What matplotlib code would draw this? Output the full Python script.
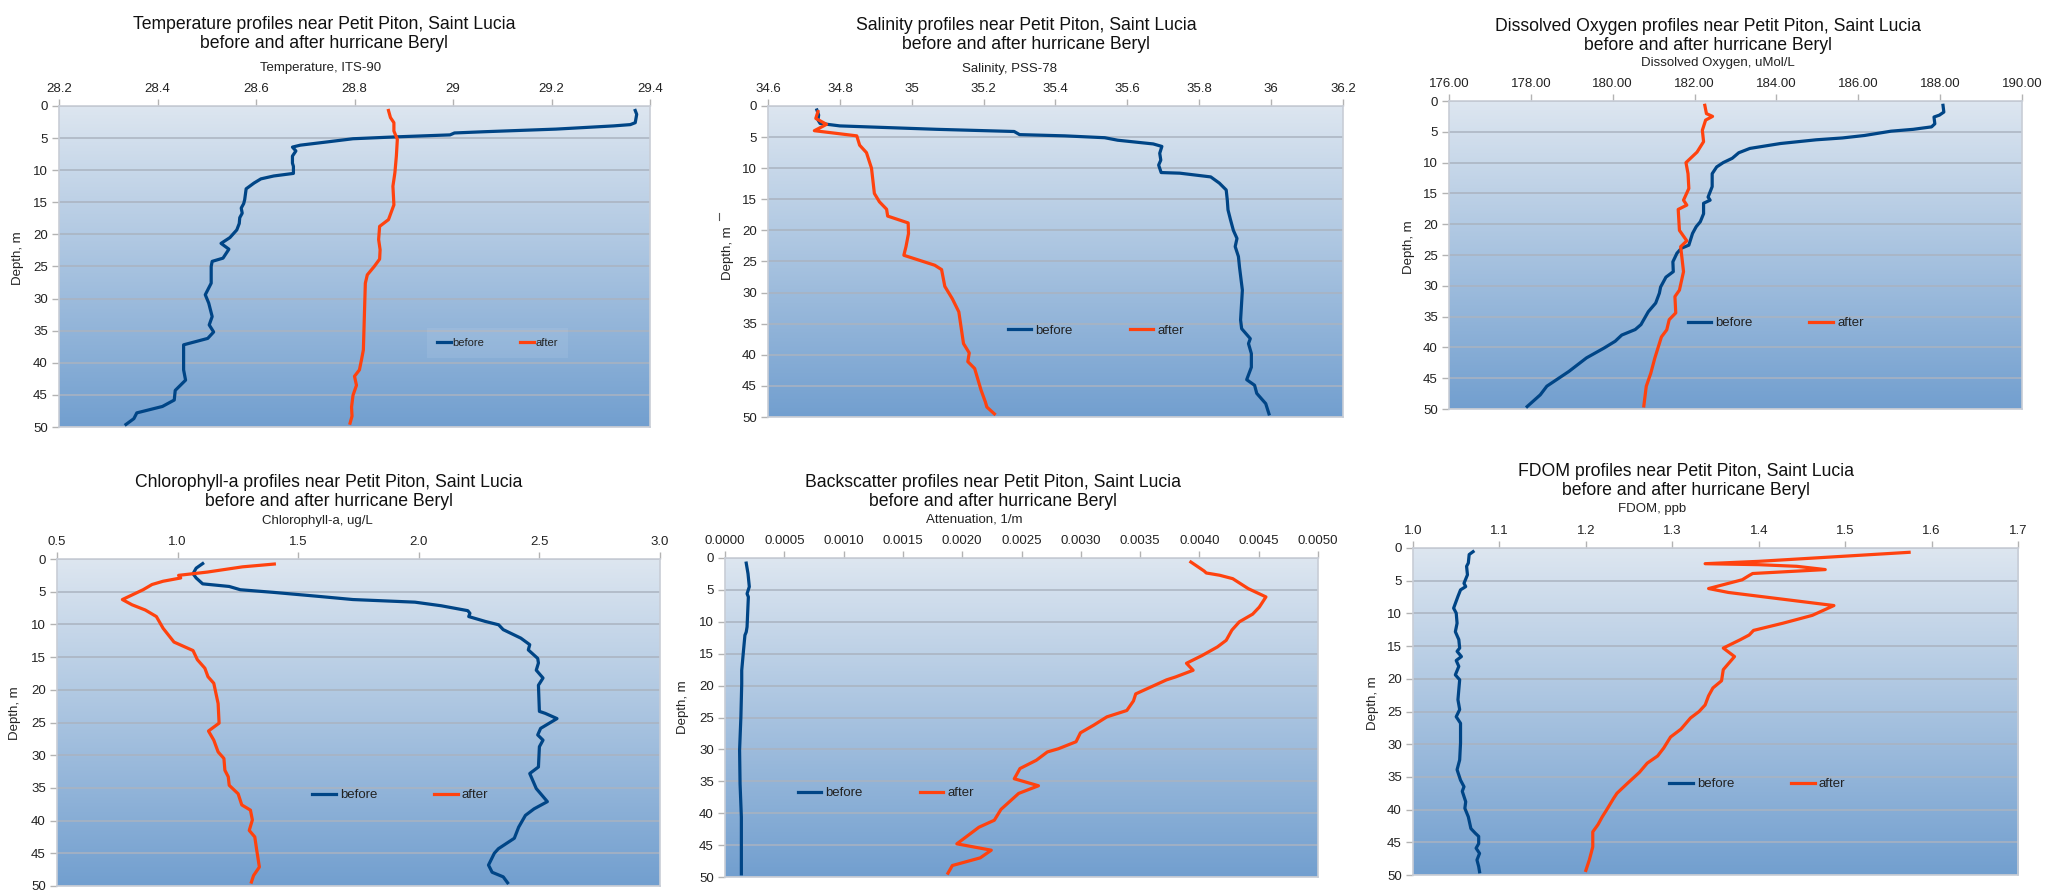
import matplotlib
matplotlib.use('Agg')
import matplotlib.pyplot as plt
import numpy as np
from matplotlib.ticker import MultipleLocator, FuncFormatter
from matplotlib.colors import LinearSegmentedColormap
from matplotlib.lines import Line2D

plt.rcParams['font.family'] = ['Liberation Sans', 'DejaVu Sans']

# ---------------- data ----------------
temp_before_depth = [0.7, 1.3, 2.6, 2.9, 3.1, 3.6, 4.0, 4.2, 4.5, 4.8, 5.1, 5.6, 6.1, 6.4, 7.0, 7.8, 8.9, 9.4, 10.5,
                     10.9, 11.35, 12.0, 12.9, 14.6, 15.2, 15.9, 16.7, 17.4, 18.3, 19.3, 20.5, 21.4, 22.3, 23.7, 24.2,
                     25.0, 27.6, 29.4, 30.7, 32.8, 34.1, 35.2, 36.2, 37.2, 39.1, 41.1, 42.7, 44.3, 45.8, 46.8, 47.8,
                     48.7, 49.6]
temp_before = [29.370, 29.373, 29.370, 29.36, 29.326, 29.209, 29.066, 29.003, 28.994, 28.887, 28.797, 28.744, 28.690,
               28.674, 28.681, 28.674, 28.674, 28.676, 28.676, 28.636, 28.61, 28.596, 28.580, 28.577, 28.575, 28.57,
               28.572, 28.567, 28.566, 28.561, 28.547, 28.529, 28.545, 28.533, 28.511, 28.509, 28.509, 28.497, 28.504,
               28.511, 28.505, 28.514, 28.502, 28.453, 28.453, 28.453, 28.457, 28.436, 28.434, 28.41, 28.358, 28.352,
               28.336]
temp_after_depth = [0.7, 1.8, 2.6, 3.9, 5.2, 7.8, 10.4, 12.5, 15.4, 17.7, 18.75, 20.8, 22.4, 23.85, 25.0, 26.3, 27.6,
                    32.8, 38.0, 39.6, 41.1, 42.1, 43.5, 45.05, 46.9, 48.3, 49.4]
temp_after = [28.869, 28.873, 28.88, 28.88, 28.887, 28.885, 28.882, 28.878, 28.88, 28.869, 28.851, 28.849, 28.852,
              28.851, 28.84, 28.826, 28.822, 28.82, 28.818, 28.814, 28.81, 28.8, 28.804, 28.797, 28.794, 28.795, 28.791]

sal_before_depth = [0.64, 1.45, 2.25, 2.8, 3.2, 3.4, 3.75, 4.1, 4.6, 4.8, 5.1, 5.5, 6.1, 6.5, 7.6, 8.7, 9.5, 10.7,
                    10.8, 11.4, 12.4, 13.5, 15.1, 16.7, 18.3, 20.0, 21.3, 22.6, 24.2, 25.9, 29.6, 34.4, 35.8, 37.4,
                    38.2, 39.8, 42.0, 44.0, 44.9, 46.2, 47.85, 49.5]
sal_before = [34.736, 34.741, 34.739, 34.745, 34.80, 34.898, 35.07, 35.285, 35.30, 35.426, 35.537, 35.573, 35.672,
              35.696, 35.69, 35.693, 35.687, 35.694, 35.746, 35.832, 35.856, 35.875, 35.878, 35.88, 35.887, 35.895,
              35.905, 35.90, 35.909, 35.912, 35.92, 35.915, 35.918, 35.942, 35.937, 35.945, 35.945, 35.932, 35.954,
              35.96, 35.985, 35.994]
sal_after_depth = [0.9, 2.0, 2.95, 3.97, 4.8, 6.3, 7.5, 10.0, 14.06, 15.4, 16.6, 17.7, 18.8, 20.5, 22.6, 24.0, 24.8,
                   25.6, 26.3, 29.0, 31.0, 33.1, 38.2, 39.7, 41.1, 42.2, 45.7, 47.6, 48.4, 49.5]
sal_after = [34.739, 34.733, 34.763, 34.729, 34.847, 34.855, 34.874, 34.888, 34.896, 34.91, 34.93, 34.933, 34.99,
             34.991, 34.984, 34.978, 35.021, 35.064, 35.083, 35.092, 35.113, 35.131, 35.144, 35.16, 35.156, 35.175,
             35.193, 35.205, 35.209, 35.23]

do_before_depth = [0.7, 1.8, 2.3, 2.6, 3.7, 4.2, 4.6, 4.9, 5.6, 6.0, 6.3, 6.9, 7.7, 8.4, 9.3, 10.0, 10.7, 11.8, 13.9,
                   15.6, 16.1, 16.6, 18.3, 19.6, 20.4, 21.5, 23.4, 23.9, 24.7, 26.1, 27.7, 28.6, 30.2, 31.2, 32.8,
                   34.2, 36.3, 37.1, 38.0, 39.0, 40.1, 41.7, 43.9, 46.3, 47.7, 49.6]
do_before = [188.07, 188.09, 187.98, 187.85, 187.87, 187.79, 187.34, 186.80, 186.15, 185.61, 184.97, 184.1, 183.35,
             183.08, 182.92, 182.7, 182.54, 182.43, 182.43, 182.33, 182.38, 182.22, 182.22, 182.14, 182.04, 181.95,
             181.86, 181.68, 181.57, 181.47, 181.48, 181.3, 181.17, 181.14, 181.05, 180.87, 180.69, 180.55, 180.22,
             180.06, 179.79, 179.36, 178.93, 178.39, 178.23, 177.91]
do_after_depth = [0.7, 2.05, 2.5, 3.1, 4.75, 6.6, 8.3, 10.0, 11.8, 14.2, 16.1, 16.9, 17.6, 21.0, 22.7, 23.65, 27.7,
                  30.7, 31.75, 34.4, 35.5, 37.15, 38.3, 41.7, 44.2, 46.3, 49.5]
do_after = [182.25, 182.29, 182.44, 182.27, 182.19, 182.22, 182.06, 181.79, 181.84, 181.86, 181.73, 181.81, 181.6,
            181.63, 181.81, 181.66, 181.73, 181.63, 181.52, 181.54, 181.38, 181.32, 181.19, 181.03, 180.93, 180.82,
            180.76]

chl_before_depth = [0.7, 1.4, 2.25, 2.9, 3.8, 4.2, 4.7, 5.1, 5.7, 6.2, 6.6, 7.15, 7.9, 8.3, 8.8, 9.55, 10.06, 10.8,
                    12.1, 13.1, 13.9, 15.2, 15.9, 17.0, 18.2, 19.3, 23.3, 23.6, 24.4, 25.9, 26.9, 27.7, 28.7, 31.8,
                    32.8, 35.1, 37.1, 38.2, 39.2, 41.0, 42.7, 44.3, 45.0, 46.8, 47.9, 48.6, 49.5]
chl_before = [1.104, 1.077, 1.064, 1.077, 1.104, 1.214, 1.26, 1.397, 1.58, 1.727, 1.984, 2.093, 2.203, 2.212, 2.207,
              2.276, 2.331, 2.35, 2.423, 2.46, 2.454, 2.493, 2.496, 2.487, 2.515, 2.496, 2.50, 2.524, 2.573, 2.505,
              2.493, 2.515, 2.50, 2.496, 2.46, 2.487, 2.533, 2.478, 2.442, 2.414, 2.396, 2.33, 2.313, 2.289, 2.304,
              2.35, 2.368]
chl_after_depth = [0.77, 1.2, 2.0, 2.5, 2.9, 3.4, 3.9, 4.7, 6.2, 7.0, 7.8, 8.8, 10.6, 12.7, 14.0, 15.4, 16.7, 18.0,
                   19.0, 22.1, 25.1, 26.3, 27.7, 29.5, 30.5, 32.3, 33.3, 34.6, 35.9, 37.6, 38.4, 39.9, 41.5, 42.5,
                   44.5, 47.1, 48.4, 49.4]
chl_after = [1.401, 1.269, 1.123, 1.004, 1.013, 0.940, 0.894, 0.857, 0.771, 0.811, 0.866, 0.912, 0.94, 0.985, 1.064,
             1.082, 1.113, 1.126, 1.15, 1.168, 1.172, 1.128, 1.15, 1.168, 1.192, 1.196, 1.21, 1.214, 1.251, 1.266,
             1.302, 1.31, 1.297, 1.32, 1.328, 1.339, 1.315, 1.306]

bs_before_depth = [0.8, 2.46, 4.5, 5.6, 6.1, 10.8, 11.6, 12.1, 14.5, 17.6, 19.7, 24.9, 30.1, 35.4, 40.6, 45.8, 49.5]
bs_before = [0.000179, 0.000194, 0.000205, 0.000186, 0.000197, 0.000186, 0.000179, 0.000168, 0.000156, 0.000141,
             0.000141, 0.000134, 0.000123, 0.000127, 0.000138, 0.000138, 0.000138]
bs_after_depth = [0.63, 2.04, 2.35, 2.7, 3.24, 4.8, 6.1, 7.7, 8.8, 10.0, 11.3, 12.9, 13.95, 15.3, 16.5, 17.6, 18.65,
                  19.1, 21.3, 22.4, 23.9, 24.9, 26.2, 27.4, 28.8, 29.9, 30.4, 31.7, 33.0, 34.6, 35.7, 36.9, 39.4,
                  41.1, 42.2, 44.8, 45.8, 47.0, 48.2, 49.4]
bs_after = [0.003928, 0.004040, 0.004058, 0.00417, 0.004281, 0.004412, 0.004561, 0.004505, 0.004449, 0.004337,
            0.004274, 0.004226, 0.004151, 0.004021, 0.003891, 0.003947, 0.003798, 0.003723, 0.003463, 0.003444,
            0.003388, 0.00322, 0.003109, 0.002997, 0.00296, 0.002811, 0.002718, 0.002625, 0.002487, 0.002439,
            0.002643, 0.002476, 0.002327, 0.002271, 0.002141, 0.001955, 0.002245, 0.002152, 0.001917, 0.00188]

fdom_before_depth = [0.56, 1.0, 2.3, 2.8, 4.1, 5.4, 5.9, 6.4, 7.4, 9.2, 9.95, 11.5, 12.8, 14.0, 15.3, 15.8, 16.6, 17.2,
                     18.1, 19.4, 20.15, 23.2, 24.7, 25.8, 26.8, 29.8, 32.4, 33.9, 35.5, 36.5, 37.2, 38.8, 39.8, 41.1,
                     42.9, 43.6, 44.1, 45.2, 45.9, 46.7, 47.7, 48.7, 49.5]
fdom_before = [1.0695, 1.065, 1.064, 1.062, 1.063, 1.059, 1.061, 1.055, 1.052, 1.047, 1.05, 1.051, 1.049, 1.053,
               1.054, 1.051, 1.056, 1.05, 1.053, 1.049, 1.054, 1.052, 1.054, 1.05, 1.055, 1.055, 1.054, 1.051, 1.055,
               1.059, 1.057, 1.061, 1.06, 1.064, 1.067, 1.072, 1.076, 1.076, 1.073, 1.077, 1.074, 1.076, 1.077]
fdom_after_depth = [0.66, 2.04, 2.4, 2.55, 2.8, 3.3, 3.9, 4.2, 4.85, 6.2, 6.8, 8.8, 10.3, 11.5, 12.6, 13.3, 14.0, 15.3,
                    16.6, 18.6, 20.3, 21.4, 22.6, 24.0, 25.0, 26.0, 27.7, 28.9, 30.6, 31.8, 32.9, 34.3, 36.0, 37.5,
                    38.3, 40.05, 41.1, 42.3, 43.4, 45.7, 47.7, 49.3]
fdom_after = [1.574, 1.40, 1.338, 1.40, 1.444, 1.477, 1.393, 1.389, 1.381, 1.342, 1.365, 1.487, 1.462, 1.428, 1.394,
              1.389, 1.379, 1.359, 1.372, 1.359, 1.357, 1.347, 1.342, 1.338, 1.331, 1.321, 1.31, 1.298, 1.29, 1.283,
              1.271, 1.262, 1.248, 1.236, 1.232, 1.224, 1.219, 1.214, 1.208, 1.208, 1.204, 1.20]

series_labels = ['before', 'after']
titles = ['Temperature', 'Salinity', 'Dissolved Oxygen', 'Chlorophyll-a', 'Backscatter', 'FDOM']
xlabels = ['Temperature, ITS-90', 'Salinity, PSS-78', 'Dissolved Oxygen, uMol/L', 'Chlorophyll-a, ug/L',
           'Attenuation, 1/m', 'FDOM, ppb']

# ---------------- layout / style ----------------
W, H = 2065, 891
fig = plt.figure(figsize=(W / 100, H / 100), dpi=100)

C_BEFORE = '#004586'
C_AFTER = '#ff420e'
GRID = '#b3b3b3'
bg_cmap = LinearSegmentedColormap.from_list('bg', ['#dde6f0', '#729fcf'])

fmt_g = FuncFormatter(lambda v, p: '{:g}'.format(round(v, 6)))
fmt_1 = FuncFormatter(lambda v, p: '{:.1f}'.format(v))
fmt_2 = FuncFormatter(lambda v, p: '{:.2f}'.format(v))
fmt_4 = FuncFormatter(lambda v, p: '{:.4f}'.format(v))

panels = [
    dict(box=(59, 650, 106, 427), title_xy=(324, 34), xlabel_xy=(321, 68), ylabel_xy=(18, 258),
         xlim=(28.2, 29.4), step=0.2, fmt=fmt_g, leg=(0.742, 0.262), narrow=True,
         data=(temp_before_depth, temp_before, temp_after_depth, temp_after)),
    dict(box=(768, 1343, 106, 417), title_xy=(1026, 35), xlabel_xy=(1009, 69), ylabel_xy=(728, 253),
         xlim=(34.6, 36.2), step=0.2, fmt=fmt_g, leg=(0.570, 0.277), narrow=False,
         data=(sal_before_depth, sal_before, sal_after_depth, sal_after)),
    dict(box=(1449, 2022, 101, 409), title_xy=(1708, 36), xlabel_xy=(1718, 63), ylabel_xy=(1409, 247),
         xlim=(176, 190), step=2, fmt=fmt_2, leg=(0.570, 0.279), narrow=False,
         data=(do_before_depth, do_before, do_after_depth, do_after)),
    dict(box=(57, 660, 559, 886), title_xy=(329, 492), xlabel_xy=(317, 521), ylabel_xy=(15, 713),
         xlim=(0.5, 3.0), step=0.5, fmt=fmt_1, leg=(0.569, 0.278), narrow=False,
         data=(chl_before_depth, chl_before, chl_after_depth, chl_after)),
    dict(box=(725, 1318, 558, 877), title_xy=(993, 492), xlabel_xy=(974, 520), ylabel_xy=(683, 707),
         xlim=(0.0, 0.005), step=0.0005, fmt=fmt_4, leg=(0.271, 0.263), narrow=False,
         data=(bs_before_depth, bs_before, bs_after_depth, bs_after)),
    dict(box=(1413, 2018, 548, 875), title_xy=(1686, 481), xlabel_xy=(1652, 509), ylabel_xy=(1373, 703),
         xlim=(1.0, 1.7), step=0.1, fmt=fmt_1, leg=(0.569, 0.278), narrow=False,
         data=(fdom_before_depth, fdom_before, fdom_after_depth, fdom_after)),
]

grad = np.linspace(0, 1, 256).reshape(-1, 1)

for i, p in enumerate(panels):
    l, r, t, b = p['box']
    ax = fig.add_axes([l / W, 1 - b / H, (r - l) / W, (b - t) / H])
    ax.imshow(grad, cmap=bg_cmap, aspect='auto', extent=[0, 1, 0, 1], transform=ax.transAxes,
              origin='upper', zorder=0, interpolation='bilinear')
    db, vb, da, va = p['data']
    ax.plot(vb, db, color=C_BEFORE, lw=2.3, label=series_labels[0], zorder=3, solid_joinstyle='round')
    ax.plot(va, da, color=C_AFTER, lw=2.3, label=series_labels[1], zorder=3, solid_joinstyle='round')
    ax.set_xlim(*p['xlim'])
    ax.set_ylim(50, 0)
    ax.xaxis.set_major_locator(MultipleLocator(p['step']))
    ax.xaxis.set_major_formatter(p['fmt'])
    ax.yaxis.set_major_locator(MultipleLocator(5))
    ax.xaxis.tick_top()
    ax.set_axisbelow(True)
    ax.yaxis.grid(True, color='#aab3c0', lw=1.1, zorder=1)
    ax.xaxis.grid(False)
    for s in ax.spines.values():
        s.set_color('#c8cdd6')
        s.set_linewidth(1.2)
    ax.tick_params(axis='x', colors=GRID, labelcolor='#222222', labelsize=9.5, length=5, width=1, pad=3)
    ax.tick_params(axis='y', colors=GRID, labelcolor='#222222', labelsize=9.5, length=5, width=1, pad=3)

    fig.text(p['title_xy'][0] / W, 1 - p['title_xy'][1] / H,
             titles[i] + ' profiles near Petit Piton, Saint Lucia\nbefore and after hurricane Beryl',
             ha='center', va='center', fontsize=12.7, color='#111111', linespacing=1.1)
    fig.text(p['xlabel_xy'][0] / W, 1 - p['xlabel_xy'][1] / H, xlabels[i],
             ha='center', va='center', fontsize=9.5, color='#222222')
    fig.text(p['ylabel_xy'][0] / W, 1 - p['ylabel_xy'][1] / H, 'Depth, m', rotation=90,
             ha='center', va='center', fontsize=9.5, color='#222222')

    if p['narrow']:
        leg = ax.legend(loc='center', bbox_to_anchor=p['leg'], ncol=2, frameon=True, fancybox=False,
                        handlelength=1.3, handletextpad=0.1, columnspacing=3.2, borderpad=0.9,
                        fontsize=8)
        leg.get_frame().set_facecolor('white')
        leg.get_frame().set_alpha(0.08)
        leg.get_frame().set_edgecolor('none')
    else:
        leg = ax.legend(loc='center', bbox_to_anchor=p['leg'], ncol=2, frameon=False,
                        handlelength=1.8, handletextpad=0.3, columnspacing=4.3, fontsize=9.5)
    for tx in leg.get_texts():
        tx.set_color('#222222')

# small stray mark beside the salinity panel
fig.add_artist(Line2D([719 / W, 719 / W], [1 - 213 / H, 1 - 220 / H], color='#555555', lw=0.8))

fig.savefig('out.png', dpi=100)
